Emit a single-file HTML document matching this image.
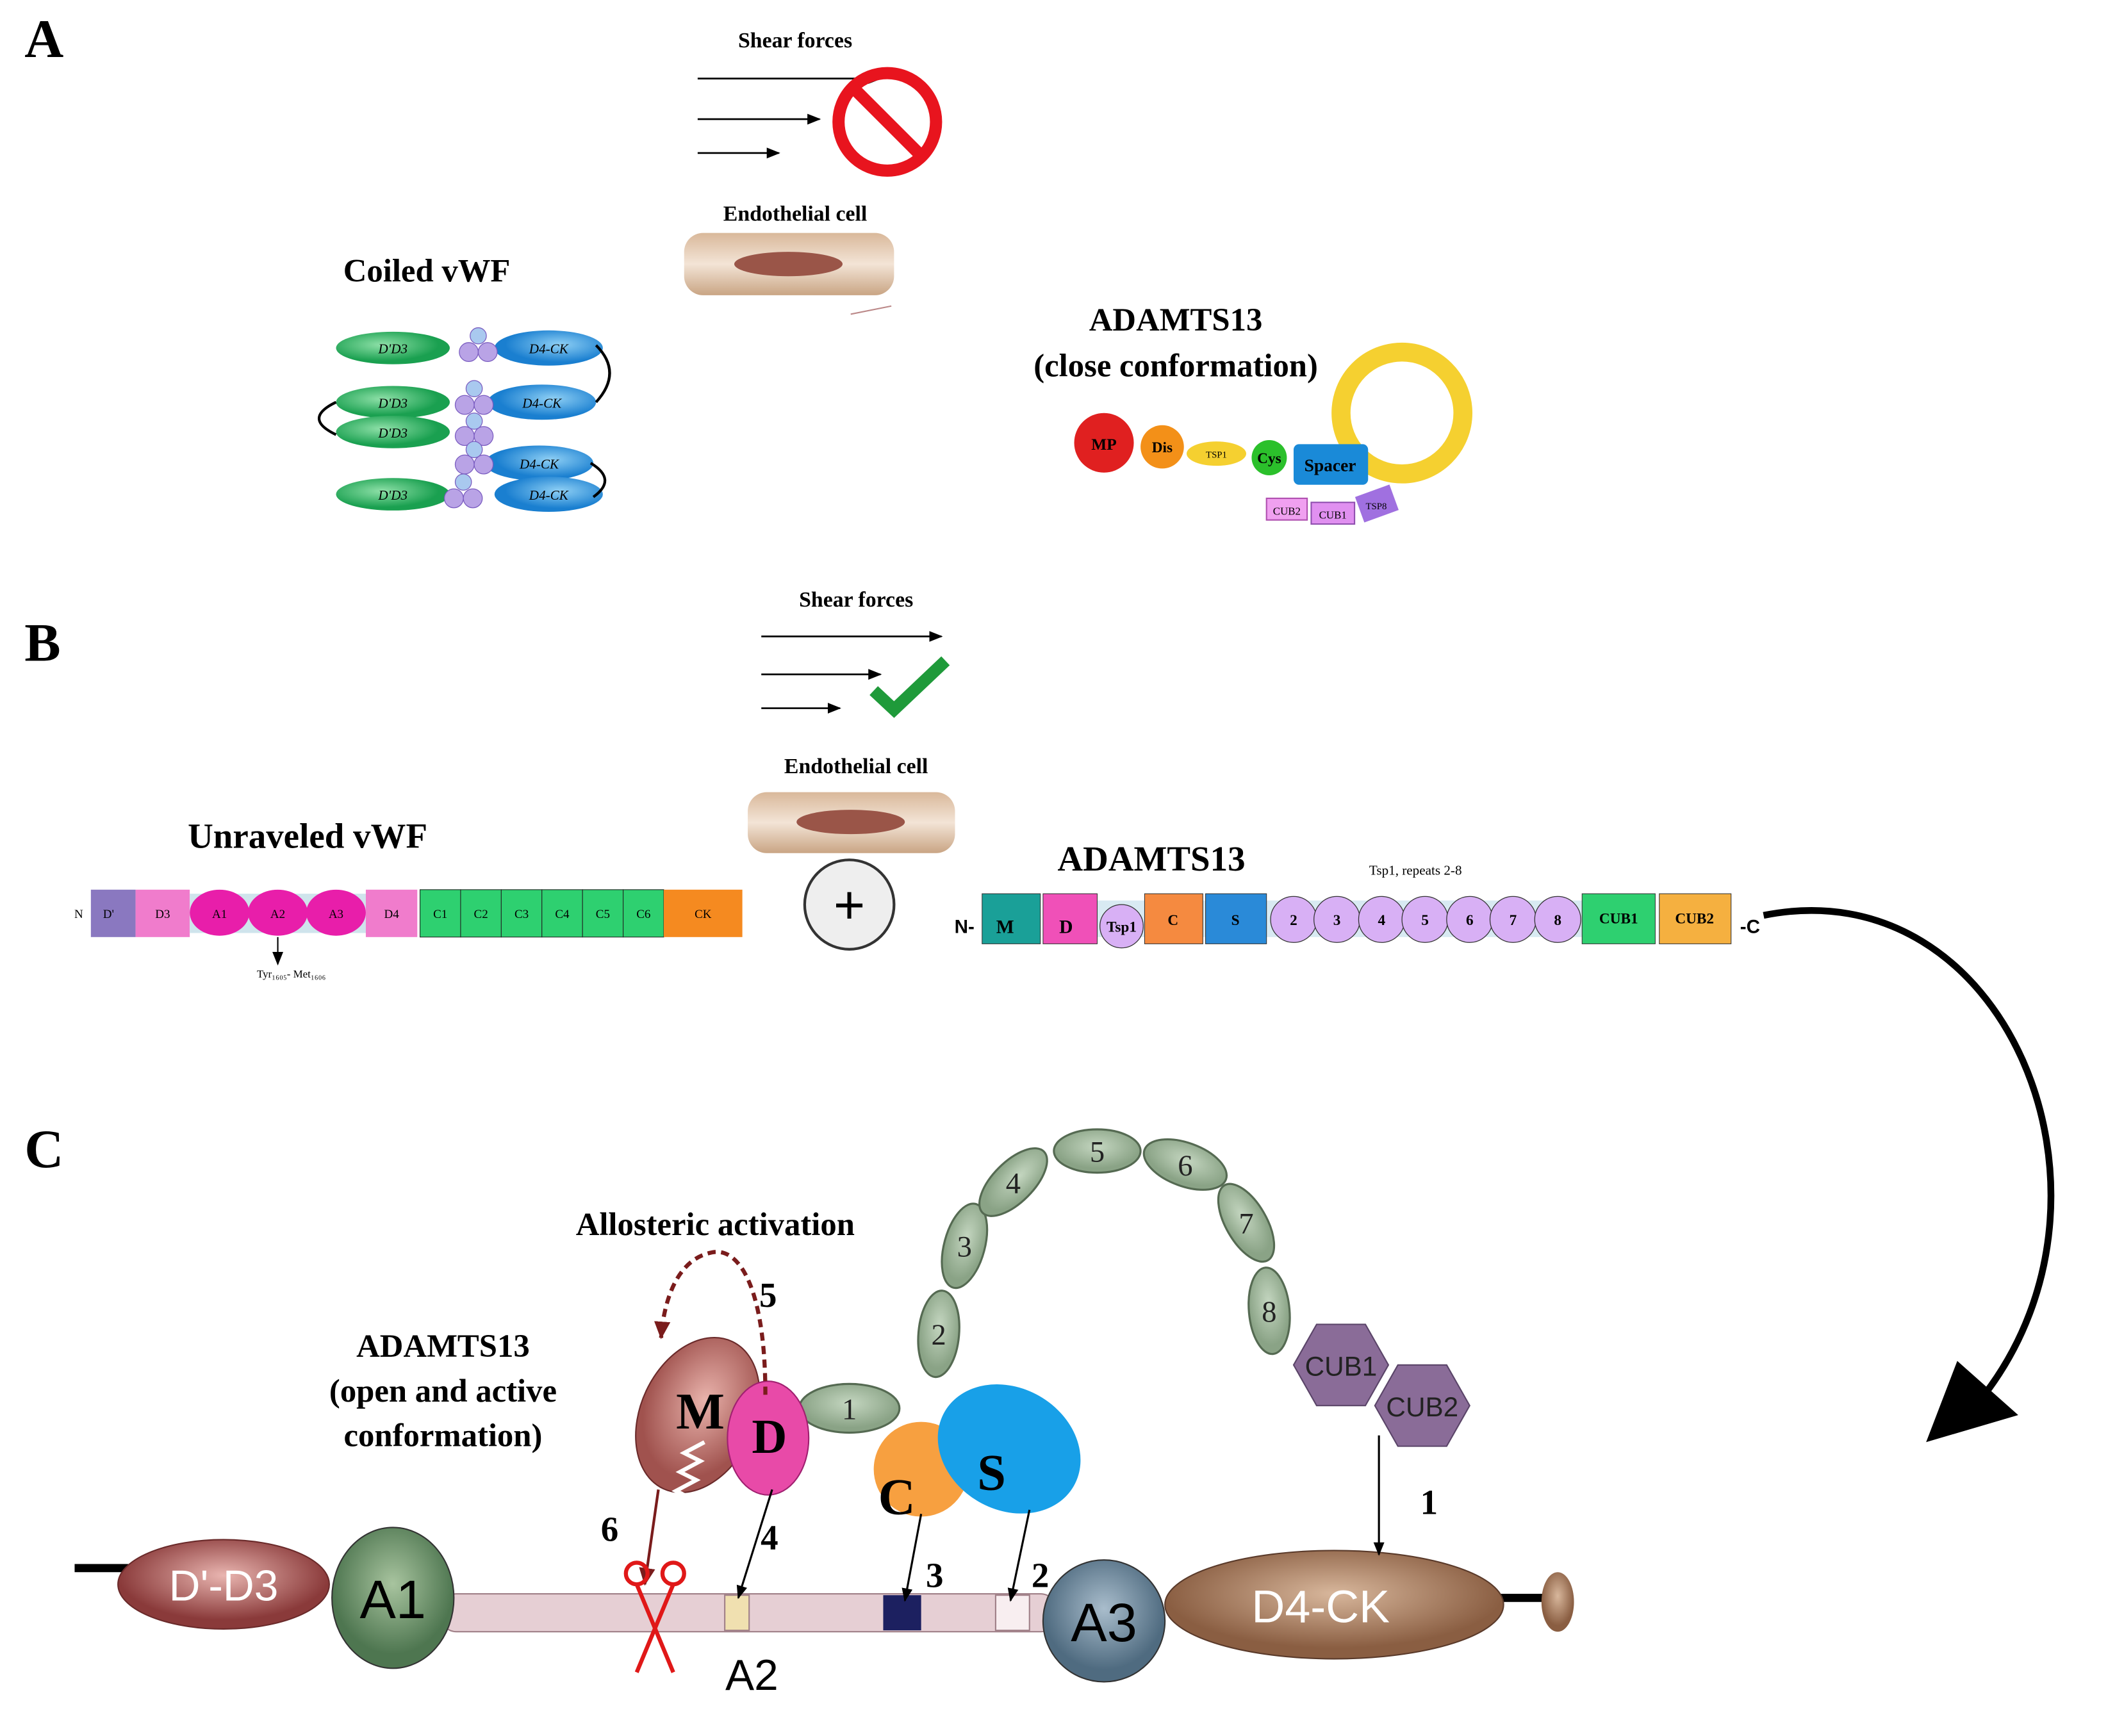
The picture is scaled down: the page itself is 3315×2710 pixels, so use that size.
<!DOCTYPE html>
<html><head><meta charset="utf-8"><style>
html,body{margin:0;padding:0;background:#fff;}
svg{display:block}
text{font-family:"Liberation Serif",serif;}
.b{font-weight:bold}
.s{font-family:"Liberation Sans",sans-serif}
</style></head><body>
<svg width="3315" height="2710" viewBox="0 0 1568 1282" xmlns="http://www.w3.org/2000/svg">
<defs>
<marker id="ah" markerWidth="10" markerHeight="10" refX="9" refY="5" orient="auto" markerUnits="userSpaceOnUse"><path d="M0,1 L10,5 L0,9 z" fill="#000"/></marker>
<marker id="ahr" markerWidth="14" markerHeight="14" refX="12" refY="7" orient="auto" markerUnits="userSpaceOnUse"><path d="M0,1 L13,7 L0,13 z" fill="#7a1c1c"/></marker>
<linearGradient id="cell" x1="0" y1="0" x2="0" y2="1"><stop offset="0" stop-color="#d9b89a"/><stop offset=".5" stop-color="#f3e4d6"/><stop offset="1" stop-color="#c9a584"/></linearGradient>
<radialGradient id="dd" cx=".5" cy=".4"><stop offset="0" stop-color="#e9b5b0"/><stop offset="1" stop-color="#8a3a3a"/></radialGradient>
<radialGradient id="a1" cx=".5" cy=".4"><stop offset="0" stop-color="#a8c49f"/><stop offset="1" stop-color="#4e7650"/></radialGradient>
<radialGradient id="a3" cx=".5" cy=".4"><stop offset="0" stop-color="#a9bdcc"/><stop offset="1" stop-color="#4f6b80"/></radialGradient>
<radialGradient id="d4" cx=".5" cy=".4"><stop offset="0" stop-color="#d8b79c"/><stop offset="1" stop-color="#8a5e42"/></radialGradient>
<radialGradient id="mm" cx=".5" cy=".4"><stop offset="0" stop-color="#e9b3ac"/><stop offset="1" stop-color="#a0524e"/></radialGradient>
<radialGradient id="gr" cx=".5" cy=".4"><stop offset="0" stop-color="#c4d6c0"/><stop offset="1" stop-color="#8aa386"/></radialGradient>
<radialGradient id="gre" cx=".4" cy=".4"><stop offset="0" stop-color="#8ee0a8"/><stop offset="1" stop-color="#1aa050"/></radialGradient>
<radialGradient id="blu" cx=".6" cy=".4"><stop offset="0" stop-color="#8fd0f5"/><stop offset="1" stop-color="#1a7fd0"/></radialGradient>
</defs>

<!-- labels -->
<text x="18" y="42" class="b" font-size="40">A</text>
<text x="18" y="488" class="b" font-size="40">B</text>
<text x="18" y="862" class="b" font-size="40">C</text>

<!-- A shear -->
<text x="587" y="35" class="b" font-size="16" text-anchor="middle">Shear forces</text>
<line x1="515" y1="58" x2="650" y2="58" stroke="#000" stroke-width="1.3" marker-end="url(#ah)"/>
<line x1="515" y1="88" x2="605" y2="88" stroke="#000" stroke-width="1.3" marker-end="url(#ah)"/>
<line x1="515" y1="113" x2="575" y2="113" stroke="#000" stroke-width="1.3" marker-end="url(#ah)"/>
<circle cx="655" cy="90" r="36" fill="none" stroke="#e8141e" stroke-width="9"/>
<line x1="630" y1="65" x2="680" y2="115" stroke="#e8141e" stroke-width="9"/>
<text x="587" y="163" class="b" font-size="16" text-anchor="middle">Endothelial cell</text>
<rect x="505" y="172" width="155" height="46" rx="14" fill="url(#cell)"/>
<ellipse cx="582" cy="195" rx="40" ry="9" fill="#9a5548"/>
<path d="M628,232 q15,-3 30,-6" stroke="#b88" fill="none"/>

<!-- Coiled vWF -->
<text x="315" y="208" class="b" font-size="24" text-anchor="middle">Coiled vWF</text>
<g font-size="10" font-style="italic" text-anchor="middle">
<ellipse cx="290" cy="257" rx="42" ry="12" fill="url(#gre)"/><text x="290" y="261">D'D3</text>
<ellipse cx="290" cy="297" rx="42" ry="12" fill="url(#gre)"/><text x="290" y="301">D'D3</text>
<ellipse cx="290" cy="319" rx="42" ry="12" fill="url(#gre)"/><text x="290" y="323">D'D3</text>
<ellipse cx="290" cy="365" rx="42" ry="12" fill="url(#gre)"/><text x="290" y="369">D'D3</text>
<ellipse cx="405" cy="257" rx="40" ry="13" fill="url(#blu)"/><text x="405" y="261">D4-CK</text>
<ellipse cx="400" cy="297" rx="40" ry="13" fill="url(#blu)"/><text x="400" y="301">D4-CK</text>
<ellipse cx="398" cy="342" rx="40" ry="13" fill="url(#blu)"/><text x="398" y="346">D4-CK</text>
<ellipse cx="405" cy="365" rx="40" ry="13" fill="url(#blu)"/><text x="405" y="369">D4-CK</text>
</g>
<g fill="#b9a3e6" stroke="#7a5cc0" stroke-width=".6">
<circle cx="346" cy="260" r="7"/><circle cx="360" cy="260" r="7"/><circle cx="353" cy="248" r="6" fill="#a9c9ef"/>
<circle cx="343" cy="299" r="7"/><circle cx="357" cy="299" r="7"/><circle cx="350" cy="287" r="6" fill="#a9c9ef"/>
<circle cx="343" cy="322" r="7"/><circle cx="357" cy="322" r="7"/><circle cx="350" cy="311" r="6" fill="#a9c9ef"/>
<circle cx="343" cy="343" r="7"/><circle cx="357" cy="343" r="7"/><circle cx="350" cy="332" r="6" fill="#a9c9ef"/>
<circle cx="335" cy="368" r="7"/><circle cx="349" cy="368" r="7"/><circle cx="342" cy="356" r="6" fill="#a9c9ef"/>
</g>
<path d="M248,297 q-25,12 0,24" stroke="#000" stroke-width="2" fill="none"/>
<path d="M440,255 q20,20 0,42" stroke="#000" stroke-width="2" fill="none"/>
<path d="M436,342 q20,12 2,25" stroke="#000" stroke-width="2" fill="none"/>

<!-- ADAMTS13 closed -->
<text x="868" y="244" class="b" font-size="24" text-anchor="middle">ADAMTS13</text>
<text x="868" y="278" class="b" font-size="24" text-anchor="middle">(close conformation)</text>
<circle cx="1035" cy="305" r="45" fill="none" stroke="#f5d030" stroke-width="14"/>
<circle cx="815" cy="327" r="22" fill="#e02020"/><text x="815" y="332" font-size="12" class="b" text-anchor="middle">MP</text>
<circle cx="858" cy="330" r="16" fill="#f39018"/><text x="858" y="334" font-size="11" class="b" text-anchor="middle">Dis</text>
<ellipse cx="898" cy="335" rx="22" ry="9" fill="#f5d030"/><text x="898" y="338" font-size="7" text-anchor="middle">TSP1</text>
<circle cx="937" cy="338" r="13" fill="#2bc02b"/><text x="937" y="342" font-size="11" class="b" text-anchor="middle">Cys</text>
<rect x="955" y="328" width="55" height="30" rx="4" fill="#1a8ad8"/><text x="982" y="348" font-size="13" class="b" text-anchor="middle">Spacer</text>
<rect x="935" y="368" width="30" height="16" fill="#f0a0f0" stroke="#b050b0"/><text x="950" y="380" font-size="8" text-anchor="middle">CUB2</text>
<rect x="968" y="371" width="32" height="16" fill="#e090f0" stroke="#9050b0"/><text x="984" y="383" font-size="8" text-anchor="middle">CUB1</text>
<rect x="1003" y="362" width="27" height="20" fill="#a070e0" transform="rotate(-20 1016 372)"/><text x="1016" y="376" font-size="7" text-anchor="middle">TSP8</text>

<!-- B -->
<text x="632" y="448" class="b" font-size="16" text-anchor="middle">Shear forces</text>
<line x1="562" y1="470" x2="695" y2="470" stroke="#000" stroke-width="1.3" marker-end="url(#ah)"/>
<line x1="562" y1="498" x2="650" y2="498" stroke="#000" stroke-width="1.3" marker-end="url(#ah)"/>
<line x1="562" y1="523" x2="620" y2="523" stroke="#000" stroke-width="1.3" marker-end="url(#ah)"/>
<path d="M645,510 l15,14 l38,-36" stroke="#1f9a3a" stroke-width="9" fill="none"/>
<text x="632" y="571" class="b" font-size="16" text-anchor="middle">Endothelial cell</text>
<rect x="552" y="585" width="153" height="45" rx="14" fill="url(#cell)"/>
<ellipse cx="628" cy="607" rx="40" ry="9" fill="#9a5548"/>
<circle cx="627" cy="668" r="33" fill="#eee" stroke="#333" stroke-width="2"/>
<text x="627" y="682" font-size="40" text-anchor="middle" class="s">+</text>

<text x="227" y="626" class="b" font-size="26" text-anchor="middle">Unraveled vWF</text>
<g font-size="9" text-anchor="middle">
<text x="58" y="678" font-size="9">N</text>
<rect x="67" y="657" width="33" height="35" fill="#8a78c0"/><text x="80" y="678">D'</text>
<rect x="100" y="657" width="40" height="35" fill="#f07ccc"/><text x="120" y="678">D3</text>
<rect x="140" y="660" width="130" height="29" fill="#cfe4ec"/>
<ellipse cx="162" cy="674" rx="22" ry="17" fill="#e81eaa"/><text x="162" y="678">A1</text>
<ellipse cx="205" cy="674" rx="22" ry="17" fill="#e81eaa"/><text x="205" y="678">A2</text>
<ellipse cx="248" cy="674" rx="22" ry="17" fill="#e81eaa"/><text x="248" y="678">A3</text>
<rect x="270" y="657" width="38" height="35" fill="#f07ccc"/><text x="289" y="678">D4</text>
<g fill="#2ed070" stroke="#222" stroke-width=".5">
<rect x="310" y="657" width="30" height="35"/><rect x="340" y="657" width="30" height="35"/><rect x="370" y="657" width="30" height="35"/><rect x="400" y="657" width="30" height="35"/><rect x="430" y="657" width="30" height="35"/><rect x="460" y="657" width="30" height="35"/></g>
<text x="325" y="678">C1</text><text x="355" y="678">C2</text><text x="385" y="678">C3</text><text x="415" y="678">C4</text><text x="445" y="678">C5</text><text x="475" y="678">C6</text>
<rect x="490" y="657" width="58" height="35" fill="#f58a20"/><text x="519" y="678">CK</text>
<text x="215" y="722" font-size="8">Tyr₁₆₀₅- Met₁₆₀₆</text>
</g>
<line x1="205" y1="692" x2="205" y2="712" stroke="#000" marker-end="url(#ah)"/>

<text x="850" y="643" class="b" font-size="26" text-anchor="middle">ADAMTS13</text>
<text x="1045" y="646" font-size="10" text-anchor="middle">Tsp1, repeats 2-8</text>
<rect x="810" y="665" width="360" height="27" fill="#d8eaf2"/>
<g font-size="11" text-anchor="middle" class="b">
<text x="712" y="689" class="s" font-size="14">N-</text>
<rect x="725" y="660" width="43" height="37" fill="#1aa098" stroke="#333" stroke-width=".5"/><text x="742" y="689" font-size="14">M</text>
<rect x="770" y="660" width="40" height="37" fill="#f050b8" stroke="#333" stroke-width=".5"/><text x="787" y="689" font-size="14">D</text>
<circle cx="828" cy="684" r="16" fill="#d8b0f5" stroke="#333" stroke-width=".6"/><text x="828" y="688">Tsp1</text>
<rect x="845" y="660" width="43" height="37" fill="#f58a40" stroke="#333" stroke-width=".5"/><text x="866" y="683">C</text>
<rect x="890" y="660" width="45" height="37" fill="#2a8ad8" stroke="#333" stroke-width=".5"/><text x="912" y="683">S</text>
<g fill="#d8b0f5" stroke="#333" stroke-width=".6">
<circle cx="955" cy="679" r="17"/><circle cx="987" cy="679" r="17"/><circle cx="1020" cy="679" r="17"/><circle cx="1052" cy="679" r="17"/><circle cx="1085" cy="679" r="17"/><circle cx="1117" cy="679" r="17"/><circle cx="1150" cy="679" r="17"/></g>
<text x="955" y="683">2</text><text x="987" y="683">3</text><text x="1020" y="683">4</text><text x="1052" y="683">5</text><text x="1085" y="683">6</text><text x="1117" y="683">7</text><text x="1150" y="683">8</text>
<rect x="1168" y="660" width="54" height="37" fill="#2ed070" stroke="#333" stroke-width=".5"/><text x="1195" y="682">CUB1</text>
<rect x="1225" y="660" width="53" height="37" fill="#f5b040" stroke="#333" stroke-width=".5"/><text x="1251" y="682">CUB2</text>
<text x="1292" y="689" class="s" font-size="14">-C</text>
</g>

<!-- big curved arrow -->
<path d="M1302,676 C1480,640 1580,880 1465,1030" stroke="#000" stroke-width="5" fill="none"/>
<path d="M1422,1065 L1445,1005 L1490,1045 Z" fill="#000"/>

<!-- C -->
<line x1="55" y1="1158" x2="100" y2="1158" stroke="#000" stroke-width="6"/>
<line x1="1090" y1="1180" x2="1140" y2="1180" stroke="#000" stroke-width="6"/>
<ellipse cx="1150" cy="1183" rx="12" ry="22" fill="url(#d4)"/>
<rect x="325" y="1177" width="455" height="28" rx="12" fill="#e6cfd4" stroke="#a08088"/>
<rect x="535" y="1178" width="18" height="26" fill="#f0e0b0" stroke="#a08088"/>
<rect x="652" y="1178" width="28" height="26" fill="#1c2060"/>
<rect x="735" y="1178" width="25" height="26" fill="#f8eef0" stroke="#a08088"/>
<ellipse cx="165" cy="1170" rx="78" ry="33" fill="url(#dd)" stroke="#6a2a2a"/>
<text x="165" y="1182" class="s" font-size="32" fill="#fff" text-anchor="middle">D'-D3</text>
<ellipse cx="290" cy="1180" rx="45" ry="52" fill="url(#a1)" stroke="#333"/>
<text x="290" y="1195" class="s" font-size="40" text-anchor="middle">A1</text>
<ellipse cx="985" cy="1185" rx="125" ry="40" fill="url(#d4)" stroke="#5a3a2a"/>
<text x="975" y="1198" class="s" font-size="34" fill="#fff" text-anchor="middle">D4-CK</text>
<circle cx="815" cy="1197" r="45" fill="url(#a3)" stroke="#333"/>
<text x="815" y="1212" class="s" font-size="40" text-anchor="middle">A3</text>
<text x="555" y="1248" class="s" font-size="32" text-anchor="middle">A2</text>

<!-- Tsp chain -->
<g fill="url(#gr)" stroke="#556a52" stroke-width="1.5" font-size="22" text-anchor="middle">
<ellipse cx="693" cy="985" rx="15" ry="32" transform="rotate(5 693 985)"/>
<ellipse cx="712" cy="920" rx="15" ry="32" transform="rotate(15 712 920)"/>
<ellipse cx="748" cy="873" rx="15" ry="32" transform="rotate(45 748 873)"/>
<ellipse cx="810" cy="850" rx="32" ry="16"/>
<ellipse cx="875" cy="860" rx="32" ry="16" transform="rotate(20 875 860)"/>
<ellipse cx="920" cy="903" rx="15" ry="32" transform="rotate(-30 920 903)"/>
<ellipse cx="937" cy="968" rx="15" ry="32" transform="rotate(-5 937 968)"/>
<ellipse cx="627" cy="1040" rx="37" ry="18"/>
</g>
<g font-size="22" text-anchor="middle" class="s" fill="#222">
<text x="693" y="993">2</text><text x="712" y="928">3</text><text x="748" y="881">4</text><text x="810" y="858">5</text><text x="875" y="868">6</text><text x="920" y="911">7</text><text x="937" y="976">8</text><text x="627" y="1048">1</text>
</g>
<polygon points="1025,1008 1008,1038 972,1038 955,1008 972,978 1008,978" fill="#8a6c98" stroke="#5a4468"/>
<polygon points="1085,1038 1068,1068 1032,1068 1015,1038 1032,1008 1068,1008" fill="#8a6c98" stroke="#5a4468"/>
<text x="990" y="1016" class="s" font-size="20" fill="#222" text-anchor="middle">CUB1</text>
<text x="1050" y="1046" class="s" font-size="20" fill="#222" text-anchor="middle">CUB2</text>

<ellipse cx="515" cy="1045" rx="42" ry="60" transform="rotate(25 515 1045)" fill="url(#mm)" stroke="#6a2a2a"/>
<text x="517" y="1055" class="b" font-size="38" text-anchor="middle">M</text>
<path d="M520,1065 l-15,8 l12,6 l-15,8 l12,6 l-15,8 l12,6 l-15,8" stroke="#fff" stroke-width="3" fill="none"/>
<ellipse cx="680" cy="1085" rx="35" ry="35" fill="#f7a040"/>
<text x="662" y="1118" class="b" font-size="38" text-anchor="middle">C</text>
<ellipse cx="567" cy="1062" rx="30" ry="42" fill="#e84aa8" stroke="#a02070"/>
<text x="568" y="1073" class="b" font-size="36" text-anchor="middle">D</text>
<ellipse cx="745" cy="1070" rx="55" ry="45" transform="rotate(30 745 1070)" fill="#18a0e8"/>
<text x="732" y="1100" class="b" font-size="38" text-anchor="middle">S</text>

<text x="327" y="1002" class="b" font-size="24" text-anchor="middle">ADAMTS13</text>
<text x="327" y="1035" class="b" font-size="24" text-anchor="middle">(open and active</text>
<text x="327" y="1068" class="b" font-size="24" text-anchor="middle">conformation)</text>
<text x="528" y="912" class="b" font-size="24" text-anchor="middle">Allosteric activation</text>
<path d="M565,1030 C565,950 545,920 525,925 C500,930 490,960 488,988" stroke="#7a1c1c" stroke-width="3" stroke-dasharray="6,4" fill="none" marker-end="url(#ahr)"/>
<text x="567" y="965" class="b" font-size="26" text-anchor="middle">5</text>

<g stroke="#000" stroke-width="1.5" fill="none" marker-end="url(#ah)">
<line x1="1018" y1="1060" x2="1018" y2="1148"/>
<line x1="760" y1="1115" x2="746" y2="1182"/>
<line x1="680" y1="1118" x2="668" y2="1182"/>
<line x1="570" y1="1100" x2="545" y2="1180"/>
</g>
<line x1="486" y1="1100" x2="476" y2="1170" stroke="#7a1c1c" stroke-width="2" marker-end="url(#ahr)"/>
<g class="b" font-size="26" text-anchor="middle">
<text x="1055" y="1118">1</text><text x="768" y="1172">2</text><text x="690" y="1172">3</text><text x="568" y="1144">4</text><text x="450" y="1138">6</text>
</g>
<!-- scissors -->
<g stroke="#e01818" stroke-width="3" fill="none">
<line x1="470" y1="1170" x2="497" y2="1235"/><line x1="497" y1="1170" x2="470" y2="1235"/>
<circle cx="470" cy="1162" r="8"/><circle cx="497" cy="1162" r="8"/>
</g>
</svg>
</body></html>
